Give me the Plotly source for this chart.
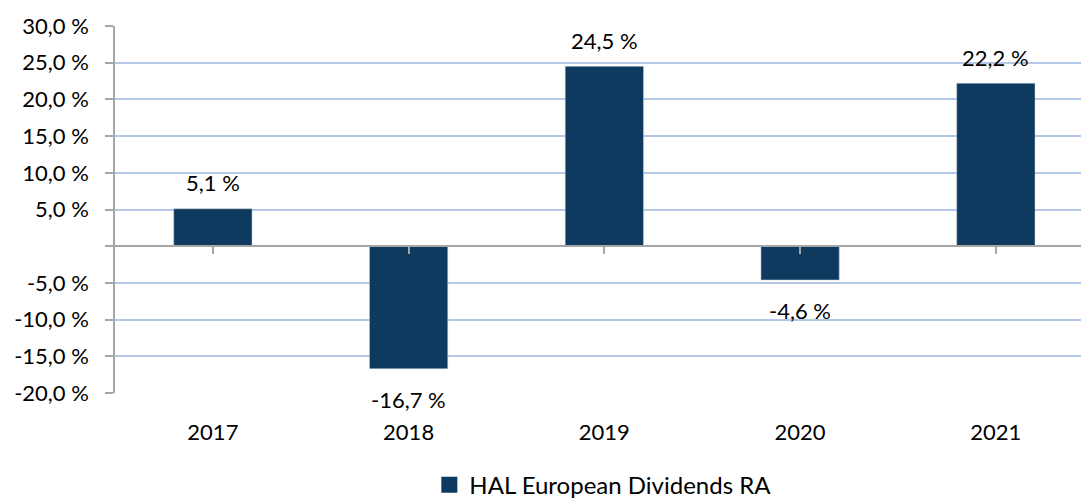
import plotly.graph_objects as go

years = ["2017", "2018", "2019", "2020", "2021"]
returns = [5.1, -16.7, 24.5, -4.6, 22.2]
labels = ["5,1 %", "-16,7 %", "24,5 %", "-4,6 %", "22,2 %"]
series_name = "HAL European Dividends RA"
y_tickvals = [-20, -15, -10, -5, 0, 5, 10, 15, 20, 25, 30]
y_ticktext = ["-20,0 %", "-15,0 %", "-10,0 %", "-5,0 %", "", "5,0 %", "10,0 %", "15,0 %", "20,0 %", "25,0 %", "30,0 %"]

FONT = "Lato, Calibri, Carlito, sans-serif"
BAR = "#0d3a5e"

fig = go.Figure()
fig.add_trace(go.Bar(
    x=years, y=returns, name=series_name,
    marker=dict(color=BAR, line=dict(color="#c8d4e0", width=0.5)),
    width=0.4, showlegend=False,
))
# legend proxy (larger square marker)
fig.add_trace(go.Scatter(
    x=[years[0]], y=[None], mode="markers", name=series_name,
    marker=dict(symbol="square", size=17, color=BAR), showlegend=True,
))
# dummy trace for the zero-crossing category axis
fig.add_trace(go.Scatter(x=years, y=[None]*len(years), xaxis="x2",
                         showlegend=False, hoverinfo="skip"))

for i, (v, t) in enumerate(zip(returns, labels)):
    fig.add_annotation(x=i, y=v, xref="x", yref="y", text=t, showarrow=False,
                       yanchor="middle", yshift=26 if v >= 0 else -31,
                       font=dict(family=FONT, size=22, color="#000000"))

fig.update_layout(
    width=1081, height=498,
    margin=dict(l=115, r=0, t=26, b=105, autoexpand=False),
    paper_bgcolor="white", plot_bgcolor="white",
    font=dict(family=FONT, size=22, color="#000000"),
    legend=dict(orientation="h", x=0.505, xanchor="center",
                yref="container", y=0.026, yanchor="middle",
                font=dict(family=FONT, size=24), itemwidth=30),
    xaxis=dict(
        type="category", range=[-0.5, 4.435],
        showline=False, showgrid=False, ticks="",
        tickfont=dict(family=FONT, size=22), ticklabelstandoff=24,
    ),
    xaxis2=dict(
        overlaying="x", matches="x", anchor="free", position=0.4,
        type="category", showline=True, linecolor="#a6a6a6", linewidth=1.5,
        ticks="outside", ticklen=7, tickcolor="#a6a6a6", tickwidth=1.5,
        showticklabels=False, showgrid=False,
    ),
    yaxis=dict(
        range=[-20, 30], tickvals=y_tickvals, ticktext=y_ticktext,
        showgrid=True, gridcolor="#b4c7e7", gridwidth=1.5,
        zeroline=False,
        showline=True, linecolor="#a6a6a6", linewidth=1.5,
        ticks="outside", ticklen=8, tickcolor="#a6a6a6", tickwidth=1.5,
        tickfont=dict(family=FONT, size=22), ticklabelstandoff=12,
    ),
)

fig.write_html("out.html")
